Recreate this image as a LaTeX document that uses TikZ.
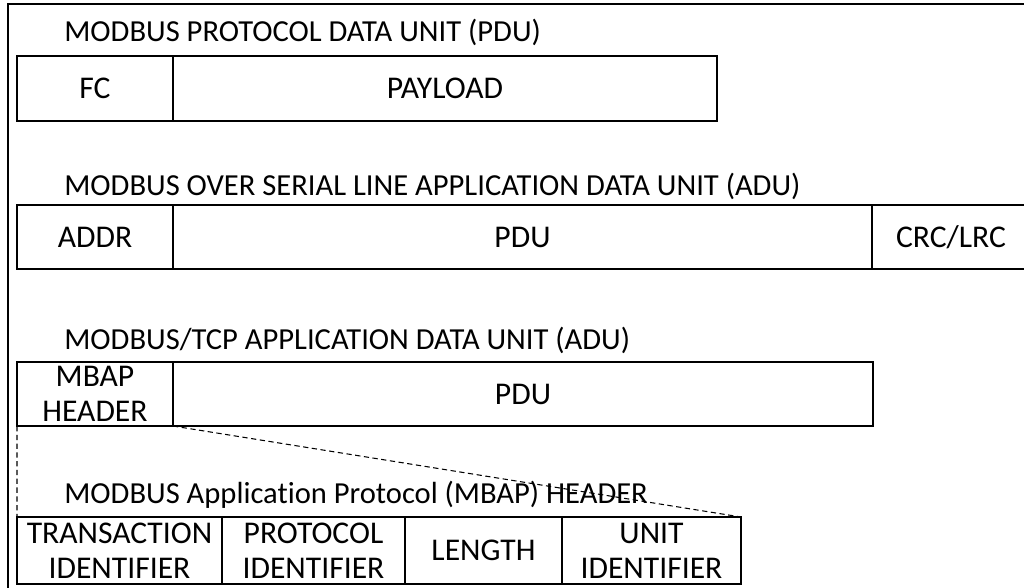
\documentclass[tikz,border=0pt]{standalone}
\usepackage{fontspec}
\setmainfont{Carlito}[Ligatures=NoCommon]
\tikzset{
  field/.style={draw,line width=1.6pt,inner sep=0pt,outer sep=0pt,align=center,
    font=\fontsize{18}{20}\selectfont},
  caption/.style={anchor=base west,inner sep=0pt,font=\fontsize{17.4}{19.5}\selectfont}
}
\begin{document}
\begin{tikzpicture}[x=0.02cm,y=-0.02cm]
    \useasboundingbox (0,0) rectangle (1024,588);
    %% frame
    \draw[line width=0.9pt] (8,620) -- (8,4) -- (1040,4);
    %% PDU
    \node[caption] (t1) at (64,42) {MODBUS PROTOCOL DATA UNIT (PDU)};
    \node[field,minimum width=3.12cm,minimum height=1.3cm] (fc) at (95,88.5) {FC};
    \node[field,minimum width=10.88cm,minimum height=1.3cm] (pay) at (445,88.5) {PAYLOAD};
    %% serial line ADU
    \node[caption] (t2) at (64,195) {MODBUS OVER SERIAL LINE APPLICATION DATA UNIT (ADU)};
    \node[field,minimum width=3.12cm,minimum height=1.28cm] (addr) at (95,237) {ADDR};
    \node[field,minimum width=13.98cm,minimum height=1.28cm] (pdu1) at (522.5,237) {PDU};
    \node[field,minimum width=3.16cm,minimum height=1.28cm] (crc) at (951,237) {CRC/LRC};
    %% TCP ADU
    \node[caption] (t3) at (64,349) {MODBUS/TCP APPLICATION DATA UNIT (ADU)};
    \node[field,minimum width=3.12cm,minimum height=1.28cm] (mbap) at (95,394) {MBAP\\HEADER};
    \node[field,minimum width=14cm,minimum height=1.28cm] (pdu2) at (523,394) {PDU};
    %% MBAP header
    \node[caption] (t4) at (64,503) {MODBUS Application Protocol (MBAP) HEADER};
    \node[field,minimum width=4.1cm,minimum height=1.34cm] (trans) at (119.5,550.5) {TRANSACTION\\IDENTIFIER};
    \node[field,minimum width=3.66cm,minimum height=1.34cm] (proto) at (313.5,550.5) {PROTOCOL\\IDENTIFIER};
    \node[field,minimum width=3.14cm,minimum height=1.34cm] (len) at (483.5,550.5) {LENGTH};
    \node[field,minimum width=3.58cm,minimum height=1.34cm] (unit) at (651.5,550.5) {UNIT\\IDENTIFIER};
    %% zoom lines
    \draw[line width=0.6pt,dash pattern=on 3pt off 2pt] (mbap.south west) -- (trans.north west);
    \draw[line width=0.6pt,dash pattern=on 3pt off 2pt] (mbap.south east) -- (unit.north east);
\end{tikzpicture}
\end{document}
